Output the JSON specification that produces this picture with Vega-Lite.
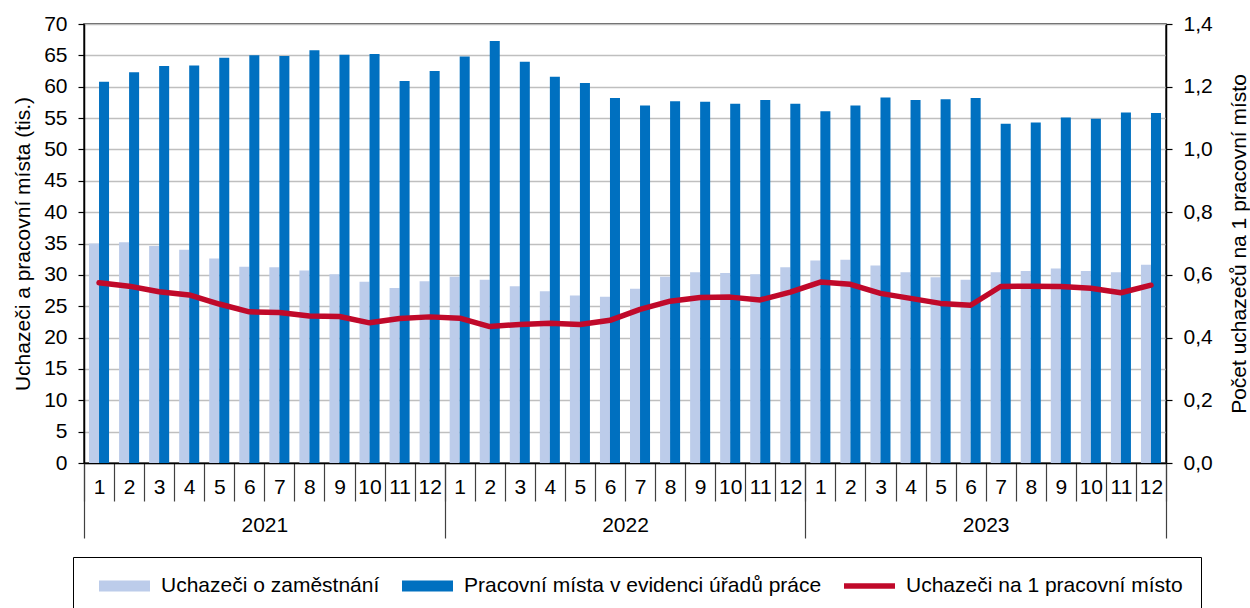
{
  "$schema": "https://vega.github.io/schema/vega-lite/v6.json",
  "width": 1082,
  "height": 439,
  "autosize": {"type": "none"},
  "padding": {"left": 84, "top": 24, "right": 84, "bottom": 145},
  "background": "white",
  "config": {
    "font": "Liberation Sans",
    "view": {"stroke": "#262626", "strokeWidth": 1.5},
    "axis": {
      "labelFont": "Liberation Sans", "titleFont": "Liberation Sans",
      "labelFontSize": 21, "titleFontSize": 21,
      "labelColor": "#000", "titleColor": "#000", "titleFontWeight": "normal",
      "domainColor": "#000", "domainWidth": 1.5, "tickColor": "#000", "tickWidth": 1.2
    },
    "legend": {
      "labelFont": "Liberation Sans", "labelFontSize": 21, "labelColor": "#000"
    }
  },
  "data": {
    "values": [
      {"obdobi": "2021-01", "rok": "2021", "uchazeci": 35.0, "mista": 60.8, "pomer": 0.575},
      {"obdobi": "2021-02", "rok": "2021", "uchazeci": 35.2, "mista": 62.3, "pomer": 0.564},
      {"obdobi": "2021-03", "rok": "2021", "uchazeci": 34.6, "mista": 63.3, "pomer": 0.546},
      {"obdobi": "2021-04", "rok": "2021", "uchazeci": 34.0, "mista": 63.4, "pomer": 0.536},
      {"obdobi": "2021-05", "rok": "2021", "uchazeci": 32.6, "mista": 64.6, "pomer": 0.507},
      {"obdobi": "2021-06", "rok": "2021", "uchazeci": 31.3, "mista": 65.0, "pomer": 0.482},
      {"obdobi": "2021-07", "rok": "2021", "uchazeci": 31.2, "mista": 64.9, "pomer": 0.480},
      {"obdobi": "2021-08", "rok": "2021", "uchazeci": 30.7, "mista": 65.8, "pomer": 0.469},
      {"obdobi": "2021-09", "rok": "2021", "uchazeci": 30.1, "mista": 65.1, "pomer": 0.467},
      {"obdobi": "2021-10", "rok": "2021", "uchazeci": 28.9, "mista": 65.2, "pomer": 0.447},
      {"obdobi": "2021-11", "rok": "2021", "uchazeci": 27.9, "mista": 60.9, "pomer": 0.461},
      {"obdobi": "2021-12", "rok": "2021", "uchazeci": 29.0, "mista": 62.5, "pomer": 0.466},
      {"obdobi": "2022-01", "rok": "2022", "uchazeci": 29.7, "mista": 64.8, "pomer": 0.462},
      {"obdobi": "2022-02", "rok": "2022", "uchazeci": 29.2, "mista": 67.3, "pomer": 0.435},
      {"obdobi": "2022-03", "rok": "2022", "uchazeci": 28.2, "mista": 64.0, "pomer": 0.442},
      {"obdobi": "2022-04", "rok": "2022", "uchazeci": 27.4, "mista": 61.6, "pomer": 0.446},
      {"obdobi": "2022-05", "rok": "2022", "uchazeci": 26.7, "mista": 60.6, "pomer": 0.442},
      {"obdobi": "2022-06", "rok": "2022", "uchazeci": 26.5, "mista": 58.2, "pomer": 0.455},
      {"obdobi": "2022-07", "rok": "2022", "uchazeci": 27.8, "mista": 57.0, "pomer": 0.490},
      {"obdobi": "2022-08", "rok": "2022", "uchazeci": 29.7, "mista": 57.7, "pomer": 0.516},
      {"obdobi": "2022-09", "rok": "2022", "uchazeci": 30.4, "mista": 57.6, "pomer": 0.528},
      {"obdobi": "2022-10", "rok": "2022", "uchazeci": 30.3, "mista": 57.3, "pomer": 0.529},
      {"obdobi": "2022-11", "rok": "2022", "uchazeci": 30.1, "mista": 57.9, "pomer": 0.520},
      {"obdobi": "2022-12", "rok": "2022", "uchazeci": 31.2, "mista": 57.3, "pomer": 0.545},
      {"obdobi": "2023-01", "rok": "2023", "uchazeci": 32.3, "mista": 56.1, "pomer": 0.577},
      {"obdobi": "2023-02", "rok": "2023", "uchazeci": 32.4, "mista": 57.0, "pomer": 0.570},
      {"obdobi": "2023-03", "rok": "2023", "uchazeci": 31.5, "mista": 58.3, "pomer": 0.541},
      {"obdobi": "2023-04", "rok": "2023", "uchazeci": 30.4, "mista": 57.9, "pomer": 0.525},
      {"obdobi": "2023-05", "rok": "2023", "uchazeci": 29.6, "mista": 58.0, "pomer": 0.509},
      {"obdobi": "2023-06", "rok": "2023", "uchazeci": 29.2, "mista": 58.2, "pomer": 0.503},
      {"obdobi": "2023-07", "rok": "2023", "uchazeci": 30.4, "mista": 54.1, "pomer": 0.563},
      {"obdobi": "2023-08", "rok": "2023", "uchazeci": 30.6, "mista": 54.3, "pomer": 0.564},
      {"obdobi": "2023-09", "rok": "2023", "uchazeci": 31.0, "mista": 55.1, "pomer": 0.563},
      {"obdobi": "2023-10", "rok": "2023", "uchazeci": 30.6, "mista": 54.9, "pomer": 0.557},
      {"obdobi": "2023-11", "rok": "2023", "uchazeci": 30.4, "mista": 55.9, "pomer": 0.543},
      {"obdobi": "2023-12", "rok": "2023", "uchazeci": 31.6, "mista": 55.8, "pomer": 0.567}
    ]
  },
  "layer": [
    {
      "transform": [{"fold": ["uchazeci", "mista"], "as": ["serie", "hodnota"]}],
      "mark": {"type": "bar"},
      "encoding": {
        "x": {
          "field": "obdobi", "type": "ordinal",
          "scale": {"paddingInner": 0, "paddingOuter": 0},
          "axis": {
            "orient": "bottom",
            "title": null, "tickBand": "extent", "tickSize": 38, "labelPadding": -25,
            "labelAngle": 0, "labelExpr": "toNumber(substring(datum.label, 5))",
            "tickColor": "#404040", "grid": false
          }
        },
        "xOffset": {
          "field": "serie", "type": "nominal", "sort": ["uchazeci", "mista"],
          "scale": {"paddingOuter": 0.5, "paddingInner": 0}
        },
        "y": {
          "field": "hodnota", "type": "quantitative",
          "scale": {"domain": [0, 70], "nice": false},
          "axis": {
            "title": "Uchazeči a pracovní místa (tis.)",
            "values": [0, 5, 10, 15, 20, 25, 30, 35, 40, 45, 50, 55, 60, 65, 70],
            "tickSize": 6, "labelPadding": 11, "titlePadding": 10,
            "grid": true, "gridColor": "#BFBFBF", "gridWidth": 1.5
          }
        },
        "color": {
          "field": "serie", "type": "nominal",
          "scale": {"domain": ["uchazeci", "mista", "pomer"], "range": ["#BCCCEA", "#0070C0", "#C0092A"]},
          "legend": {
            "orient": "none", "legendX": -11, "legendY": 533, "direction": "horizontal",
            "title": null, "strokeColor": "#000", "fillColor": "white", "padding": 18,
            "clipHeight": 22, "labelLimit": 0,
            "symbolOffset": 8, "labelOffset": 11, "columnPadding": 14, "symbolSize": 2601, "symbolStrokeWidth": 0,
            "symbolType": "M-1,-0.216H1V0.216H-1Z",
            "labelExpr": "datum.label == 'uchazeci' ? 'Uchazeči o zaměstnání' : datum.label == 'mista' ? 'Pracovní místa v evidenci úřadů práce' : 'Uchazeči na 1 pracovní místo'",
            "encode": {
              "symbols": {
                "update": {
                  "shape": {"signal": "datum.value == 'pomer' ? 'M-1,-0.11H1V0.11H-1Z' : 'M-1,-0.216H1V0.216H-1Z'"}
                }
              }
            }
          }
        }
      }
    },
    {
      "mark": {"type": "line", "strokeWidth": 5.5, "strokeJoin": "round", "strokeCap": "round"},
      "encoding": {
        "x": {"field": "obdobi", "type": "ordinal", "axis": null},
        "y": {
          "field": "pomer", "type": "quantitative",
          "scale": {"domain": [0, 1.4], "nice": false},
          "axis": {
            "orient": "right", "title": "Počet uchazečů na 1 pracovní místo",
            "values": [0, 0.2, 0.4, 0.6, 0.8, 1.0, 1.2, 1.4],
            "labelExpr": "replace(format(datum.value, '.1f'), '.', ',')",
            "tickSize": 6, "labelPadding": 11, "titleAngle": -90, "titleBaseline": "top",
            "titlePadding": 16, "grid": false
          }
        },
        "color": {"datum": "pomer"}
      }
    },
    {
      "mark": {"type": "text", "opacity": 0},
      "encoding": {
        "x": {
          "field": "rok", "type": "ordinal",
          "scale": {"type": "band", "paddingInner": 0, "paddingOuter": 0},
          "axis": {
            "orient": "bottom",
            "title": null, "tickBand": "extent", "tickSize": 75, "labelPadding": -24,
            "labelAngle": 0, "domain": false, "grid": false, "tickColor": "#404040"
          }
        },
        "text": {"value": ""}
      }
    }
  ],
  "resolve": {"scale": {"x": "independent", "y": "independent"}}
}
